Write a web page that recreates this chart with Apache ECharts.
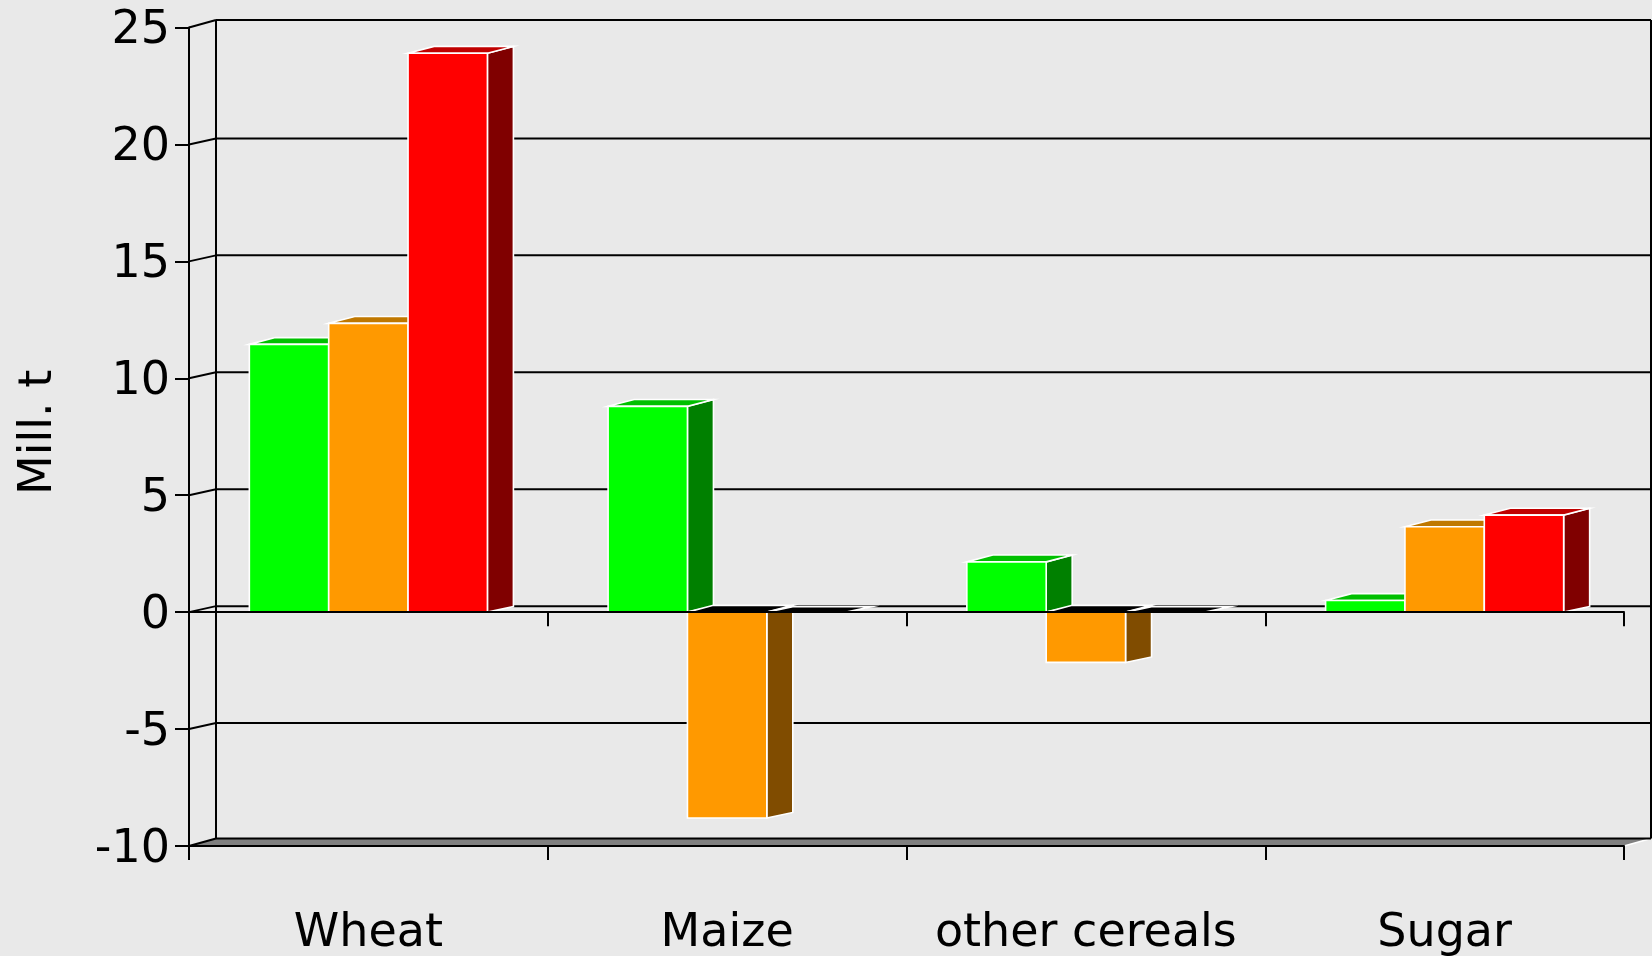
<!DOCTYPE html>
<html>
<head>
<meta charset="utf-8">
<style>html,body{margin:0;padding:0;background:#e9e9e9}#c{width:1652px;height:956px}</style>
<script src="https://cdn.jsdelivr.net/npm/echarts@6/dist/echarts.min.js"></script>
</head>
<body>
<div id="c"></div>
<script>
const categories = ['Wheat', 'Maize', 'other cereals', 'Sugar'];
const greenValues = [11.45, 8.8, 2.15, 0.5];
const orangeValues = [12.35, -8.8, -2.15, 3.65];
const redValues = [23.9, 0, 0, 4.15];
const wallTicks = [-10, -5, 0, 5, 10, 15, 20, 25];

const DX = 27, DY = 6, BAR_DX = 26, BAR_DY = 6.8, BAR_DY_BOTTOM = 5.5;
const BAR_FRAC = 0.2212;
const FONT = '"DejaVu Sans", Verdana, sans-serif';

function barSeries(values, front, top, side, k) {
  return {
    type: 'custom', coordinateSystem: 'cartesian2d', clip: false, z: 3,
    data: values.map((v, i) => [i, v]),
    encode: { x: 0, y: 1 },
    renderItem(params, api) {
      const i = api.value(0), v = api.value(1);
      const c0 = api.coord([i, 0]), c1 = api.coord([i, v]);
      const w = api.size([1, 0])[0] * BAR_FRAC;
      const x = c0[0] + (k - 1.5) * w;
      const yT = Math.min(c0[1], c1[1]), yB = Math.max(c0[1], c1[1]);
      const st = { stroke: '#fff', lineWidth: 1.6, lineJoin: 'miter' };
      const topDy = yB > yT ? BAR_DY : BAR_DY_BOTTOM;
      const kids = [];
      if (yB > yT) kids.push({ type: 'polygon', shape: { points: [[x + w, yT], [x + w + BAR_DX, yT - topDy], [x + w + BAR_DX, yB - BAR_DY_BOTTOM], [x + w, yB]] }, style: Object.assign({ fill: side }, st) });
      kids.push({ type: 'polygon', shape: { points: [[x, yT], [x + BAR_DX, yT - topDy], [x + w + BAR_DX, yT - topDy], [x + w, yT]] }, style: Object.assign({ fill: v > 0 ? top : '#000' }, st) });
      if (yB > yT) kids.push({ type: 'rect', shape: { x, y: yT, width: w, height: yB - yT }, style: Object.assign({ fill: front }, st) });
      return { type: 'group', children: kids };
    }
  };
}

const wallSeries = {
  type: 'custom', coordinateSystem: 'cartesian2d', clip: false, z: 1, silent: true,
  data: wallTicks.map(t => [0, t]),
  encode: { x: 0, y: 1 },
  renderItem(params, api) {
    const t = api.value(1);
    const g = params.coordSys;
    const y = api.coord([0, t])[1];
    const xL = g.x, xR = g.x + g.width;
    const extra = (t === 25 || t === -10) ? 1.5 : 0;
    const by = y - DY - extra;
    const line = { stroke: '#000', lineWidth: 2 };
    const kids = [];
    if (t === -10) {
      kids.push({ type: 'polygon', shape: { points: [[xL, y], [xL + DX, by], [xR + DX, by], [xR, y]] }, style: { fill: '#808080' } });
      kids.push({ type: 'line', shape: { x1: xR, y1: y, x2: xR + DX, y2: by }, style: { stroke: '#fff', lineWidth: 1.6 } });
    }
    kids.push({ type: 'line', shape: { x1: xL, y1: y, x2: xL + DX, y2: by }, style: line });
    kids.push({ type: 'line', shape: { x1: xL + DX, y1: by, x2: xR + DX, y2: by }, style: line });
    if (t === 25) {
      const yBot = api.coord([0, -10])[1] - DY - 1.5;
      kids.push({ type: 'line', shape: { x1: xL + DX, y1: by, x2: xL + DX, y2: yBot }, style: line });
      kids.push({ type: 'line', shape: { x1: xR + DX, y1: by, x2: xR + DX, y2: yBot }, style: line });
    }
    return { type: 'group', children: kids };
  }
};

const lineStyle = { color: '#000', width: 2 };
const chart = echarts.init(document.getElementById('c'), null, { renderer: 'canvas' });
chart.setOption({
  animation: false,
  backgroundColor: '#e9e9e9',
  grid: { left: 189, right: 28, top: 27.5, bottom: 110, outerBoundsMode: 'none' },
  xAxis: [
    {
      type: 'category', data: categories, position: 'bottom', z: 5,
      axisLine: { onZero: false, lineStyle },
      axisTick: { show: true, length: 14, lineStyle },
      axisLabel: { fontFamily: FONT, fontSize: 46, color: '#000', margin: 65, interval: 0 }
    },
    {
      type: 'category', data: categories, position: 'bottom', z: 5,
      axisLine: { onZero: true, lineStyle },
      axisTick: { show: true, length: 14, lineStyle },
      axisLabel: { show: false }
    }
  ],
  yAxis: {
    type: 'value', min: -10, max: 25, interval: 5, z: 5,
    name: 'Mill. t', nameLocation: 'middle', nameGap: 127, nameRotate: 90,
    nameTextStyle: { fontFamily: FONT, fontSize: 46, color: '#000', padding: [0, 0, 0, 9] },
    axisLine: { show: true, onZero: false, lineStyle },
    axisTick: { show: true, length: 14, lineStyle },
    axisLabel: {
      margin: 19,
      formatter: v => '{t|' + v + '}',
      rich: { t: { fontFamily: FONT, fontSize: 46, color: '#000', padding: [8, 0, 0, 0] } }
    },
    splitLine: { show: false }
  },
  series: [
    wallSeries,
    barSeries(greenValues, '#00ff00', '#00c000', '#008000', 0),
    barSeries(orangeValues, '#ff9900', '#c07800', '#804c00', 1),
    barSeries(redValues, '#ff0000', '#c00000', '#800000', 2)
  ]
});
</script>
</body>
</html>
